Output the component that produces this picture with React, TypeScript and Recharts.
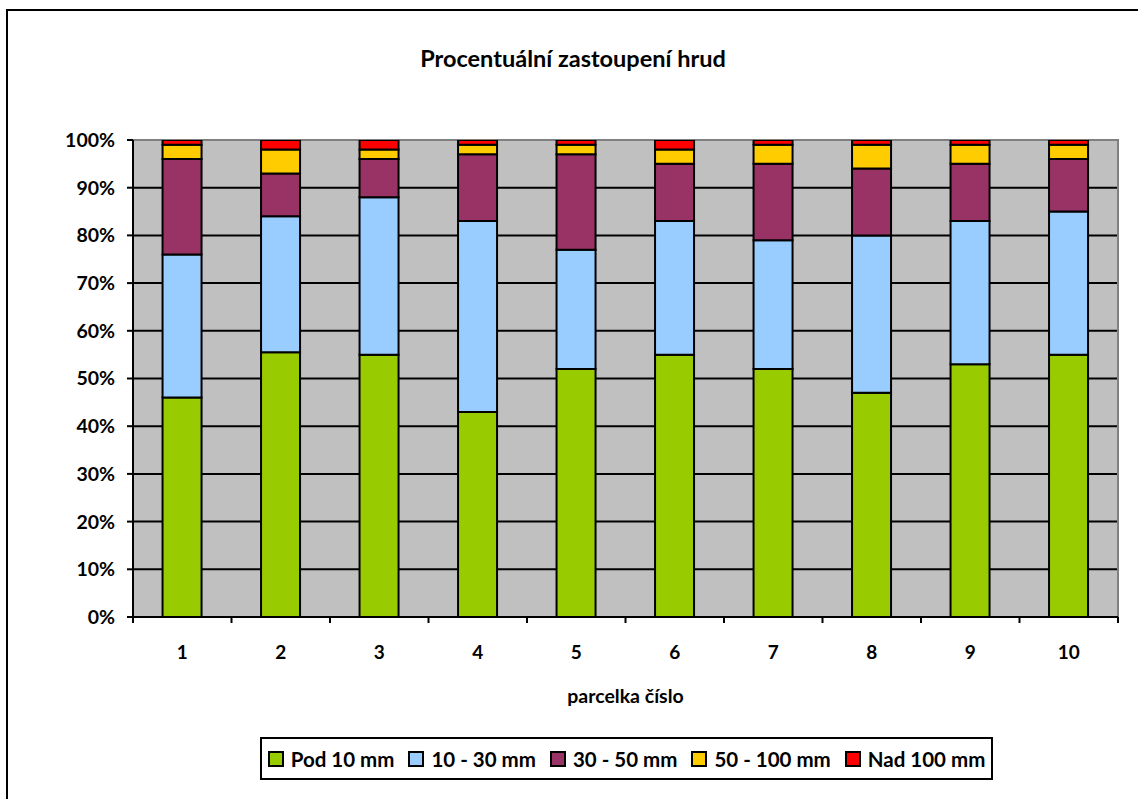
import React from 'react';
import {
  BarChart,
  Bar,
  XAxis,
  YAxis,
  CartesianGrid,
  ReferenceArea,
} from 'recharts';

// parcelka 1..10, share of clod size classes in %
const parcels = ['1', '2', '3', '4', '5', '6', '7', '8', '9', '10'];
const pod10 = [46, 55.5, 55, 43, 52, 55, 52, 47, 53, 55];
const od10do30 = [30, 28.5, 33, 40, 25, 28, 27, 33, 30, 30];
const od30do50 = [20, 9, 8, 14, 20, 12, 16, 14, 12, 11];
const od50do100 = [3, 5, 2, 2, 2, 3, 4, 5, 4, 3];
const nad100 = [1, 2, 2, 1, 1, 2, 1, 1, 1, 1];
const yTicks = [0, 10, 20, 30, 40, 50, 60, 70, 80, 90, 100];

const series = [
  { key: 'pod10', label: 'Pod 10 mm', color: '#99CC00', values: pod10 },
  { key: 'od10do30', label: '10 - 30 mm', color: '#99CCFF', values: od10do30 },
  { key: 'od30do50', label: '30 - 50 mm', color: '#993366', values: od30do50 },
  { key: 'od50do100', label: '50 - 100 mm', color: '#FFCC00', values: od50do100 },
  { key: 'nad100', label: 'Nad 100 mm', color: '#FF0000', values: nad100 },
];

const data = parcels.map((p, i) => {
  const row: Record<string, number | string> = { parcel: p };
  series.forEach((s) => {
    row[s.key] = s.values[i];
  });
  return row;
});

const W = 1138;
const H = 799;
const PLOT_LEFT = 133;
const PLOT_RIGHT = 1118;
const PLOT_TOP = 140;
const PLOT_BOTTOM = 617;
const BAND = (PLOT_RIGHT - PLOT_LEFT) / parcels.length;
const FONT = 'Lato, "Open Sans", sans-serif';

function XTick(props: any) {
  const { x, y, payload, index } = props;
  return (
    <g>
      <line x1={x - BAND / 2} y1={y} x2={x - BAND / 2} y2={y + 6} stroke="#000" strokeWidth={2} />
      {index === parcels.length - 1 && (
        <line x1={x + BAND / 2} y1={y} x2={x + BAND / 2} y2={y + 6} stroke="#000" strokeWidth={2} />
      )}
      <text
        x={x}
        y={y + 42}
        textAnchor="middle"
        fontFamily={FONT}
        fontWeight={700}
        fontSize={19}
        fill="#000"
      >
        {payload.value}
      </text>
    </g>
  );
}

export default function App() {
  return (
    <div
      style={{
        position: 'absolute',
        left: 0,
        top: 0,
        width: W,
        height: H,
        overflow: 'hidden',
        background: '#fff',
        fontFamily: FONT,
      }}
    >
      {/* chart frame, runs past the right and bottom edge */}
      <div
        style={{
          position: 'absolute',
          left: 6,
          top: 9,
          width: W + 20,
          height: H + 20,
          border: '2px solid #000',
        }}
      />
      <div
        style={{
          position: 'absolute',
          left: 0,
          width: 1146,
          top: 43,
          textAlign: 'center',
          fontWeight: 700,
          fontSize: 23.5,
          lineHeight: '30px',
        }}
      >
        Procentuální zastoupení hrud
      </div>
      <div style={{ position: 'absolute', left: 0, top: 0 }}>
        <BarChart
          width={W}
          height={H}
          data={data}
          barCategoryGap="30%"
          margin={{ top: PLOT_TOP, right: W - PLOT_RIGHT, left: 0, bottom: H - PLOT_BOTTOM - 30 }}
        >
          <CartesianGrid
            vertical={false}
            fill="#C0C0C0"
            stroke="#000"
            strokeWidth={2}
            horizontalValues={[10, 20, 30, 40, 50, 60, 70, 80, 90]}
          />
          <ReferenceArea y1={0} y2={100} fill="none" stroke="#808080" strokeWidth={2} ifOverflow="visible" />
          <XAxis
            dataKey="parcel"
            height={30}
            axisLine={{ stroke: '#000', strokeWidth: 2 }}
            tickLine={false}
            tickSize={0}
            tickMargin={0}
            tick={<XTick />}
            interval={0}
            label={{
              value: 'parcelka číslo',
              position: 'insideBottom',
              offset: -56,
              fill: '#000',
              fontFamily: FONT,
              fontWeight: 700,
              fontSize: 19.5,
            }}
          />
          <YAxis
            width={PLOT_LEFT}
            domain={[0, 100]}
            ticks={yTicks}
            interval={0}
            allowDataOverflow
            tickFormatter={(v: number) => `${v}%`}
            axisLine={{ stroke: '#000', strokeWidth: 2 }}
            tickLine={{ stroke: '#000', strokeWidth: 2 }}
            tickSize={6}
            tickMargin={12}
            tick={{ fill: '#000', fontFamily: FONT, fontWeight: 700, fontSize: 19.5 }}
          />
          {series.map((s) => (
            <Bar
              key={s.key}
              dataKey={s.key}
              name={s.label}
              stackId="a"
              fill={s.color}
              stroke="#000"
              strokeWidth={2}
              isAnimationActive={false}
            />
          ))}
        </BarChart>
      </div>
      {/* legend */}
      <div
        style={{
          position: 'absolute',
          left: 260,
          top: 737,
          width: 733,
          height: 43,
          boxSizing: 'border-box',
          border: '2px solid #000',
          background: '#fff',
          display: 'flex',
          alignItems: 'center',
          justifyContent: 'center',
          gap: 14,
          fontWeight: 700,
          fontSize: 20.5,
        }}
      >
        {series.map((s) => (
          <div key={s.key} style={{ display: 'flex', alignItems: 'center', gap: 7 }}>
            <span
              style={{
                display: 'inline-block',
                width: 12,
                height: 12,
                background: s.color,
                border: '2px solid #000',
              }}
            />
            <span>{s.label}</span>
          </div>
        ))}
      </div>
    </div>
  );
}
